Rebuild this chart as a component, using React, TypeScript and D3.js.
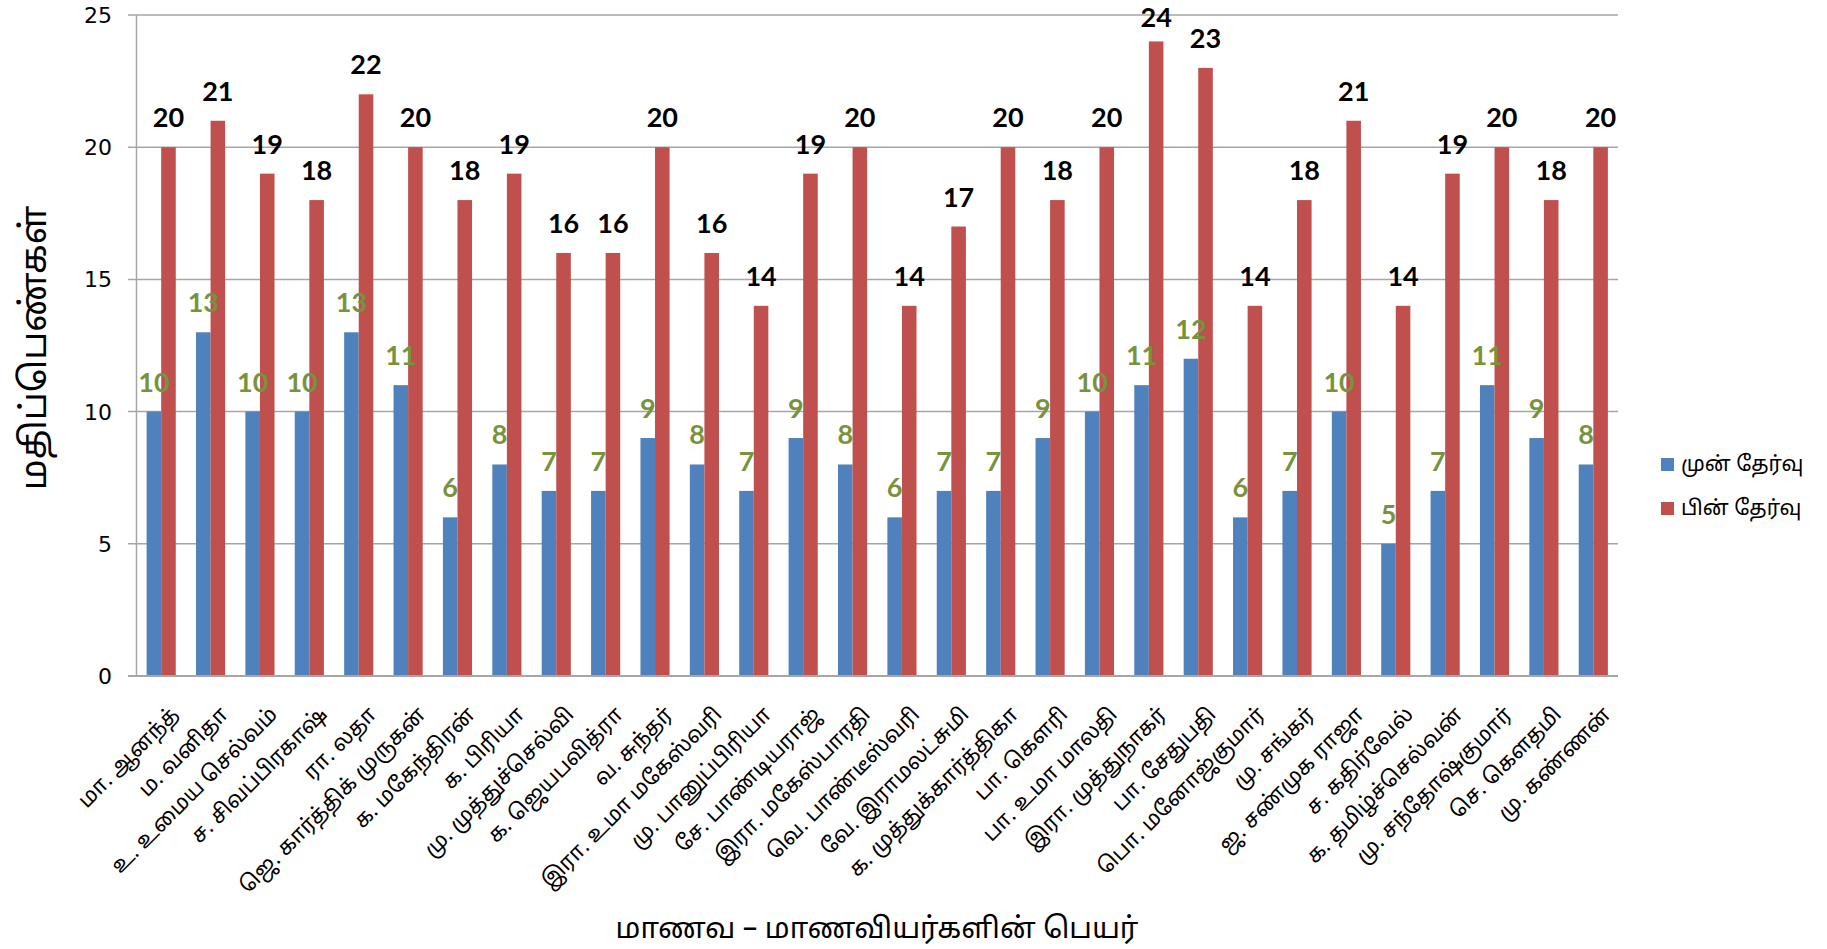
import React from "react";
import * as d3 from "d3";

const names = [
  "மா. ஆனந்த்", "ம. வனிதா", "உ. உமைய செல்வம்", "ச. சிவப்பிரகாஷ்", "ரா. லதா",
  "ஜெ. கார்த்திக் முருகன்", "க. மகேந்திரன்", "க. பிரியா", "மு. முத்துச்செல்வி", "க. ஜெயபவித்ரா",
  "வ. சுந்தர்", "இரா. உமா மகேஸ்வரி", "மு. பானுப்பிரியா", "சே. பாண்டியராஜ்", "இரா. மகேஸ்பாரதி",
  "வெ. பாண்டீஸ்வரி", "வே. இராமலட்சுமி", "க. முத்துக்கார்த்திகா", "பா. கௌரி", "பா. உமா மாலதி",
  "இரா. முத்துநாகர்", "பா. சேதுபதி", "பொ. மனோஜ்குமார்", "மு. சங்கர்", "ஜ. சண்முக ராஜா",
  "ச. கதிர்வேல்", "க. தமிழ்ச்செல்வன்", "மு. சந்தோஷ்குமார்", "செ. கௌதமி", "மு. கண்ணன்",
];
const preTest = [10, 13, 10, 10, 13, 11, 6, 8, 7, 7, 9, 8, 7, 9, 8, 6, 7, 7, 9, 10, 11, 12, 6, 7, 10, 5, 7, 11, 9, 8];
const postTest = [20, 21, 19, 18, 22, 20, 18, 19, 16, 16, 20, 16, 14, 19, 20, 14, 17, 20, 18, 20, 24, 23, 14, 18, 21, 14, 19, 20, 18, 20];
const seriesNames = ["முன் தேர்வு", "பின் தேர்வு"];
const yTicks = [0, 5, 10, 15, 20, 25];
const yTitle = "மதிப்பெண்கள்";
const xTitle = "மாணவ – மாணவியர்களின் பெயர்";

const W = 1827, H = 949;
const left = 136.5, right = 1618, top = 15, bottom = 676;
const BLUE = "#4F81BD", RED = "#C0504D", GREEN = "#77933C", GRID = "#A6A6A6";
const tamilFont = "'Noto Sans Tamil', 'Lohit Tamil', 'Latha', 'Noto Sans', sans-serif";
const numFont = "Lato, 'Open Sans', sans-serif";

export default function App() {
  const y = d3.scaleLinear().domain([0, 25]).range([bottom, top]);
  const x0 = d3.scaleBand<string>().domain(names).range([left, right]).paddingInner(0.41).paddingOuter(0.205);
  const x1 = d3.scaleBand<string>().domain(["pre", "post"]).range([0, x0.bandwidth()]);

  return (
    <svg width={W} height={H} style={{ position: "absolute", left: 0, top: 0, background: "#fff" }}>
      {yTicks.map((t) => (
        <line key={"g" + t} x1={128} x2={right} y1={y(t)} y2={y(t)} stroke={GRID} strokeWidth={1.5} />
      ))}
      <line x1={left} x2={left} y1={top} y2={bottom} stroke={GRID} strokeWidth={1.5} />
      {yTicks.map((t) => (
        <text key={"t" + t} x={112} y={y(t)} dy="0.36em" textAnchor="end" fontFamily="'DejaVu Sans', Verdana, sans-serif" fontSize={22} fill="#000">
          {t}
        </text>
      ))}
      {names.map((n, i) => {
        const gx = x0(n)!;
        return (
          <g key={n}>
            <rect x={gx + x1("pre")!} y={y(preTest[i])} width={x1.bandwidth()} height={y(0) - y(preTest[i])} fill={BLUE} />
            <rect x={gx + x1("post")!} y={y(postTest[i])} width={x1.bandwidth()} height={y(0) - y(postTest[i])} fill={RED} />
          </g>
        );
      })}
      <line x1={128} x2={right} y1={bottom} y2={bottom} stroke={GRID} strokeWidth={2} />
      {names.map((n, i) => {
        const gx = x0(n)!;
        const bw = x1.bandwidth();
        return (
          <g key={"l" + n}>
            <text x={gx + x1("pre")! + bw / 2} y={y(preTest[i]) - 20} textAnchor="middle" fontFamily={numFont} fontWeight="bold" fontSize={27} fill={GREEN}>
              {preTest[i]}
            </text>
            <text x={gx + x1("post")! + bw / 2} y={Math.max(y(postTest[i]) - 20, 27)} textAnchor="middle" fontFamily={numFont} fontWeight="bold" fontSize={27} fill="#000">
              {postTest[i]}
            </text>
          </g>
        );
      })}
      {names.map((n) => {
        const cx = x0(n)! + x0.bandwidth() / 2;
        return (
          <text key={"x" + n} transform={`translate(${cx + 5},${702}) rotate(-45)`} textAnchor="end" dy="0.9em" fontFamily={tamilFont} fontSize={21.5} fill="#000">
            {n}
          </text>
        );
      })}
      <text transform={`translate(37,348) rotate(-90)`} textAnchor="middle" dominantBaseline="central" fontFamily={tamilFont} fontSize={36} fill="#000">
        {yTitle}
      </text>
      <text x={877} y={938} textAnchor="middle" fontFamily={tamilFont} fontSize={29} fill="#000">
        {xTitle}
      </text>
      {seriesNames.map((s, i) => (
        <g key={s} transform={`translate(1661,${458 + i * 44})`}>
          <rect x={0} y={0} width={13} height={13} fill={i === 0 ? BLUE : RED} />
          <text x={20} y={13} fontFamily={tamilFont} fontSize={21} fill="#000">
            {s}
          </text>
        </g>
      ))}
    </svg>
  );
}
